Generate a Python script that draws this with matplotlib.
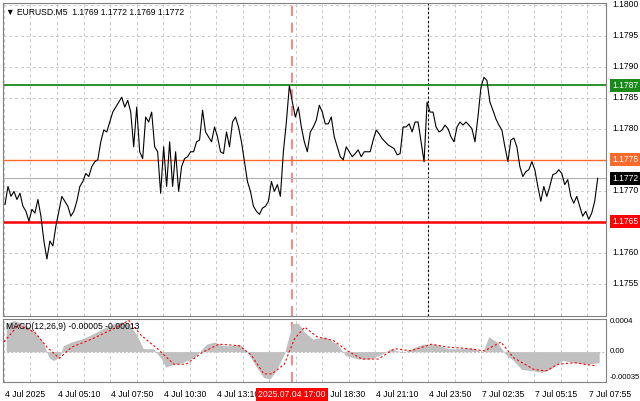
import numpy as np
import matplotlib
matplotlib.use("Agg")
import matplotlib.pyplot as plt

plt.rcParams['font.family'] = ['Liberation Sans', 'DejaVu Sans']

# EURUSD M5 close prices, sampled about every 1.8 bars
prices = [
    1.17678, 1.17707, 1.17691, 1.17699, 1.17686, 1.17696, 1.17675, 1.17667, 1.17651, 1.17670,
    1.17664, 1.17686, 1.17659, 1.17619, 1.17590, 1.17619, 1.17611, 1.17643, 1.17667, 1.17691,
    1.17683, 1.17675, 1.17659, 1.17667, 1.17683, 1.17707, 1.17715, 1.17728, 1.17723, 1.17739,
    1.17747, 1.17750, 1.17779, 1.17798, 1.17795, 1.17811, 1.17827, 1.17835, 1.17843, 1.17851,
    1.17835, 1.17846, 1.17827, 1.17771, 1.17835, 1.17763, 1.17752, 1.17819, 1.17811, 1.17827,
    1.17771, 1.17763, 1.17696, 1.17771, 1.17707, 1.17779, 1.17707, 1.17763, 1.17699, 1.17739,
    1.17752, 1.17755, 1.17763, 1.17763, 1.17779, 1.17782, 1.17830, 1.17795, 1.17787, 1.17779,
    1.17803, 1.17787, 1.17763, 1.17760, 1.17795, 1.17771, 1.17811, 1.17819, 1.17803, 1.17779,
    1.17747, 1.17715, 1.17699, 1.17675, 1.17667, 1.17662, 1.17672, 1.17675, 1.17683, 1.17715,
    1.17699, 1.17710, 1.17691, 1.17763, 1.17811, 1.17870, 1.17843, 1.17819, 1.17835, 1.17803,
    1.17779, 1.17763, 1.17795,
    1.17803, 1.17814, 1.17838, 1.17827, 1.17808, 1.17808, 1.17819, 1.17787, 1.17771, 1.17755,
    1.17750, 1.17771, 1.17763, 1.17755, 1.17760, 1.17766, 1.17755, 1.17763, 1.17763, 1.17763,
    1.17782, 1.17798, 1.17792, 1.17784, 1.17779, 1.17774, 1.17771, 1.17768, 1.17758, 1.17760,
    1.17803, 1.17803, 1.17808, 1.17795, 1.17811, 1.17811, 1.17779, 1.17747, 1.17843, 1.17827,
    1.17827, 1.17803, 1.17795, 1.17798, 1.17806, 1.17800, 1.17787, 1.17779, 1.17803, 1.17811,
    1.17806, 1.17811, 1.17806, 1.17800, 1.17779, 1.17819, 1.17867, 1.17883, 1.17878, 1.17843,
    1.17830, 1.17816, 1.17806, 1.17798, 1.17771, 1.17747, 1.17782, 1.17785, 1.17771, 1.17739,
    1.17723, 1.17731, 1.17734, 1.17747, 1.17734, 1.17707, 1.17683, 1.17707, 1.17691, 1.17707,
    1.17726, 1.17728, 1.17734, 1.17728, 1.17710, 1.17718, 1.17691, 1.17680, 1.17691, 1.17675,
    1.17659, 1.17667, 1.17654, 1.17664, 1.17683, 1.17720,
]
price_step = 1.807  # bars per sample

# MACD histogram (bar index, value)
hist_bar = [1.3, 6.2, 13.6, 18.6, 23.5, 27.2, 29.7, 33.4, 35.8, 40.8, 48.2, 55.6, 63, 70.4, 75.3,
            80.3, 84, 90.2, 95.1, 97.6, 102.5, 107.4, 114.8, 119.8, 122.3, 127.2, 132.1, 137.1,
            142, 147, 151.9, 156.8, 160.5, 164.2, 169.2, 174.1, 177.8, 181.5, 186.5, 193.9,
            201.3, 206.2, 213.6, 221, 228.4, 233.4, 240.8, 248.2, 253.1, 260.5, 268, 275.3,
            282.8, 289, 292.6, 297.6, 302.5, 307.5, 312.4, 319.8, 324.7, 329.7, 337.1, 344.5,
            351.9, 359.3]
hist_val = [0.00038, 0.00042, 0.00035, 0.00026, 0.00013, -0.00008, -0.00012, -0.00008, 0.00008,
            0.00013, 0.00018, 0.00026, 0.00035, 0.0004, 0.00038, 0.00022, 0.00004, 0.00004,
            -0.0001, -0.00021, -0.00017, -0.00015, -0.00008, 0.00004, 0.0001, 0.00013, 0.00008,
            0.00008, 0.0001, -0.00001, -0.00019, -0.00035, -0.00037, -0.00026, -0.00003, 0.00038,
            0.00038, 0.00026, 0.00017, 0.0002, 0.0001, -0.00005, -0.0001, -0.0001, -0.00003,
            0.00004, -0.00001, 0.00006, 0.0001, 0.0001, 0.00004, 0.00004, 0.00005, -0.00001,
            0.0002, 0.00013, -0.00003, -0.00012, -0.00024, -0.00026, -0.00028, -0.00024,
            -0.00012, -0.00015, -0.00017, -0.00015]

signal_bar = [0, 8.7, 18.6, 26, 33.4, 40.8, 53.1, 68, 75.3, 82.8, 92.6, 102.5, 109.9, 119.8, 129.7,
              142, 149.4, 156.8, 161.8, 169.2, 175.3, 181.5, 189, 198.8, 207.4, 216.1, 226, 235.8,
              245.7, 258, 268, 280.3, 290.1, 300, 307.5, 319.8, 327.2, 334.6, 344.5, 356.8]
signal_val = [0.00013, 0.00036, 0.00026, 0.00006, -0.00009, 0.00006, 0.00017, 0.00033, 0.00042,
              0.00022, 0.00004, -0.00017, -0.00017, -0.00001, 0.0001, 0.00008, -0.00005, -0.0003,
              -0.0003, -0.00017, 0.00017, 0.00033, 0.0002, 0.00015, 0.00001, -0.0001, -0.0001,
              0.00004, 0.00001, 0.0001, 0.00006, 0.00004, 0.00001, 0.00013, -0.00008, -0.00024,
              -0.00026, -0.00017, -0.00015, -0.00019]

# time labels every 32 bars, the 17:00 slot is covered by the marker label
tick_bars = [0, 32, 64, 96, 128, 192, 224, 256, 288, 320, 352]
tick_labels = ["4 Jul 2025", "4 Jul 05:10", "4 Jul 07:50", "4 Jul 10:30", "4 Jul 13:10",
               "4 Jul 18:30", "4 Jul 21:10", "4 Jul 23:50", "7 Jul 02:35", "7 Jul 05:15", "7 Jul 07:55"]
marker_bar = 174
marker_label = "2025.07.04 17:00"

levels = [1.1787, 1.1775, 1.1765]
level_colors = ["#1a8a1a", "#ff6a2a", "#ff0000"]
level_widths = [1.3, 1.0, 1.8]
last_price = 1.1772

W, H = 640, 401
FS = 6.2
fig = plt.figure(figsize=(W / 100, H / 100), dpi=100)
ax = fig.add_axes([3 / W, 1 - 316 / H, 603 / W, 313 / H])
axm = fig.add_axes([3 / W, 1 - 382 / H, 603 / W, 63 / H])

xlim = (-0.6, 363.4)
grid_kw = dict(color="#c8c8c8", ls=(0, (3, 3)), lw=0.7, zorder=0)
ylo, yhi = 1.17498, 1.18003

for a in (ax, axm):
    a.set_xlim(*xlim)
    for b in range(0, 364, 16):
        a.axvline(b, **grid_kw)
    for s in a.spines.values():
        s.set_color("#808080")
        s.set_linewidth(0.8)
    a.tick_params(left=False, labelleft=False, bottom=False, labelbottom=False,
                  right=False, labelright=False)
    a.axvline(marker_bar, color="#ff7070", ls=(0, (6, 4)), lw=1.2, zorder=1)

# main panel
xp = np.arange(len(prices)) * price_step + 0.6
ax.set_ylim(ylo, yhi)
for v in np.arange(1.1755, 1.18001, 0.0005):
    ax.axhline(v, **grid_kw)
    ax.text(1.01, (v - ylo) / (yhi - ylo), f"{v:.4f}", transform=ax.transAxes,
            fontsize=FS, va="center", ha="left")
ax.axvline(256, color="black", ls=(0, (2, 2)), lw=0.8, zorder=1)
ax.axhline(last_price, color="#b0b0b0", lw=0.8, zorder=1)
for lv, c, w in zip(levels, level_colors, level_widths):
    ax.axhline(lv, color=c, lw=w, zorder=2)
ax.plot(xp, prices, color="black", lw=0.8, zorder=3)

for lv, c in zip(levels + [last_price], level_colors + ["black"]):
    ax.text(1.01, (lv - ylo) / (yhi - ylo), f"{lv:.4f}", transform=ax.transAxes,
            fontsize=FS, va="center", ha="left", color="white",
            bbox=dict(boxstyle="square,pad=0.25", fc=c, ec="none"))

ax.text(0.005, 0.985, "\u25bc EURUSD.M5  1.1769 1.1772 1.1769 1.1772", transform=ax.transAxes,
        fontsize=FS, va="top", ha="left")

# MACD panel
mlo, mhi = -0.00041, 0.00044
axm.set_ylim(mlo, mhi)
axm.fill_between(hist_bar, hist_val, 0, color="#c0c0c0", lw=0, zorder=2)
axm.axhline(0, color="#c0c0c0", ls=(0, (2, 2)), lw=0.7, zorder=1)
axm.plot(signal_bar, signal_val, color="red", ls=(0, (2, 2)), lw=0.8, zorder=3)
for v, s in [(0.0004, "0.0004"), (0.0, "0.00"), (-0.00035, "-0.00035")]:
    axm.text(1.006, (v - mlo) / (mhi - mlo), s, transform=axm.transAxes,
             fontsize=5.6, va="center", ha="left")
axm.text(0.005, 0.95, "MACD(12,26,9) -0.00005 -0.00013", transform=axm.transAxes,
         fontsize=FS, va="top", ha="left")

# time axis
for b, lab in zip(tick_bars, tick_labels):
    axm.annotate(lab, xy=(b, 0), xycoords=("data", "axes fraction"), xytext=(1, -6),
                 textcoords="offset points", fontsize=FS, ha="left", va="top")
axm.annotate(marker_label, xy=(marker_bar, 0), xycoords=("data", "axes fraction"),
             xytext=(0, -6), textcoords="offset points", fontsize=FS, ha="center", va="top",
             color="white", bbox=dict(boxstyle="square,pad=0.25", fc="red", ec="none"))

fig.savefig("out.png", dpi=100)
